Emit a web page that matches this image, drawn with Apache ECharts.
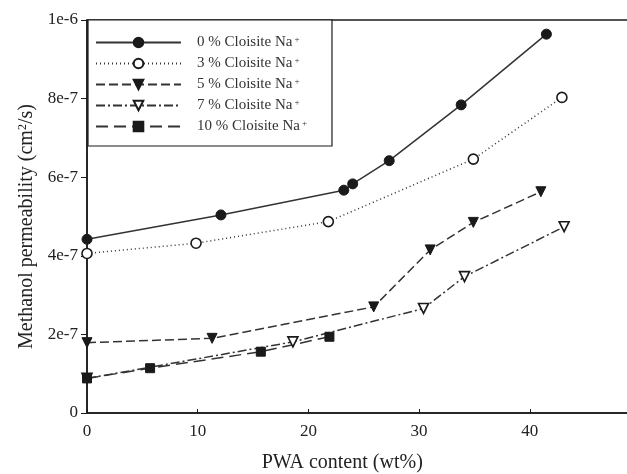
<!DOCTYPE html>
<html>
<head>
<meta charset="utf-8">
<script src="https://cdn.jsdelivr.net/npm/echarts@6/dist/echarts.min.js"></script>
<style>html,body{margin:0;padding:0;background:#fff}#c{width:627px;height:474px}</style>
</head>
<body>
<div id="c"></div>
<script>
const seriesNames = ['0 % Cloisite Na', '3 % Cloisite Na', '5 % Cloisite Na', '7 % Cloisite Na', '10 % Cloisite Na'];
const s0x = [0, 12.1, 23.2, 24.0, 27.3, 33.8, 41.5];
const s0y = [4.42e-7, 5.04e-7, 5.67e-7, 5.83e-7, 6.42e-7, 7.84e-7, 9.64e-7];
const s3x = [0, 9.85, 21.8, 34.9, 42.9];
const s3y = [4.06e-7, 4.32e-7, 4.87e-7, 6.46e-7, 8.03e-7];
const s5x = [0, 11.3, 25.9, 31.0, 34.9, 41.0];
const s5y = [1.79e-7, 1.90e-7, 2.70e-7, 4.15e-7, 4.85e-7, 5.63e-7];
const s7x = [0, 18.6, 30.4, 34.1, 43.1];
const s7y = [0.88e-7, 1.81e-7, 2.66e-7, 3.47e-7, 4.74e-7];
const s10x = [0, 5.7, 15.7, 21.9];
const s10y = [0.88e-7, 1.14e-7, 1.56e-7, 1.94e-7];
const yTickLabels = ['0', '2e-7', '4e-7', '6e-7', '8e-7', '1e-6'];
const xTickLabels = ['0', '10', '20', '30', '40', '50'];

const pairs = (xs, ys) => xs.map((x, i) => [x, ys[i]]);
const serif = 'Liberation Serif';
const ink = '#1a1a1a';

function mk(name, xs, ys, symbol, filled, dash, rotate) {
  return {
    name: name,
    type: 'line',
    data: pairs(xs, ys),
    symbol: symbol,
    symbolSize: symbol === 'rect' ? 9 : 10,
    symbolRotate: rotate || 0,
    showAllSymbol: true,
    lineStyle: { color: '#333', width: 1.5, type: dash },
    itemStyle: filled ? { color: ink, borderColor: ink, borderWidth: 1 } : { color: '#fff', borderColor: ink, borderWidth: 1.6 },
    z: 3
  };
}

const chart = echarts.init(document.getElementById('c'), null, { renderer: 'canvas' });
chart.setOption({
  animation: false,
  backgroundColor: '#fff',
  grid: { left: 87, top: 20, width: 553.5, height: 393, show: true, borderColor: ink, borderWidth: 1.5, outerBoundsMode: 'none', containLabel: false },
  legend: {
    orient: 'vertical',
    left: 88, top: 20,
    padding: [15, 25, 12, 7],
    itemWidth: 85, itemHeight: 12, itemGap: 6,
    borderColor: ink, borderWidth: 1.2, backgroundColor: '#fff',
    data: seriesNames,
    formatter: n => '{t|' + n + '}{s|+}',
    textStyle: {
      rich: {
        t: { fontFamily: serif, fontSize: 15, color: '#333', padding: [0, 0, 0, 11], lineHeight: 14 },
        s: { fontFamily: serif, fontSize: 9, color: '#333', verticalAlign: 'top', lineHeight: 10, padding: [0, 0, 4, 2] }
      }
    }
  },
  xAxis: {
    type: 'value', min: 0, max: 50, interval: 10,
    axisLine: { onZero: false, lineStyle: { color: ink, width: 1.5 } },
    axisTick: { inside: true, length: 4, lineStyle: { color: ink } },
    splitLine: { show: false },
    axisLabel: { fontFamily: serif, fontSize: 17, color: '#222', margin: 10, formatter: v => xTickLabels[Math.round(v / 10)] },
    name: 'PWA content (wt%)', nameLocation: 'middle', nameGap: 40,
    nameTextStyle: { fontFamily: serif, fontSize: 20, color: '#222', padding: [0, 43, 0, 0] }
  },
  yAxis: {
    type: 'value', min: 0, max: 1e-6, interval: 2e-7,
    axisLine: { show: true, lineStyle: { color: ink, width: 1.5 } },
    axisTick: { show: true, length: 6, lineStyle: { color: ink } },
    splitLine: { show: false },
    axisLabel: { fontFamily: serif, fontSize: 17, color: '#222', margin: 9, formatter: v => yTickLabels[Math.round(v / 2e-7)] },
    name: '{a|Methanol permeability (cm}{b|2}{a|/s)}', nameLocation: 'middle', nameGap: 39,
    nameTextStyle: {
      padding: [0, 20, 0, 0],
      rich: {
        a: { fontFamily: serif, fontSize: 20, color: '#222' },
        b: { fontFamily: serif, fontSize: 12, color: '#222', verticalAlign: 'top', padding: [0, 0, 9, 0] }
      }
    }
  },
  series: [
    mk(seriesNames[0], s0x, s0y, 'circle', true, 'solid'),
    mk(seriesNames[1], s3x, s3y, 'circle', false, [1, 3]),
    mk(seriesNames[2], s5x, s5y, 'triangle', true, [9, 4], 180),
    mk(seriesNames[3], s7x, s7y, 'triangle', false, [9, 3, 2, 3], 180),
    mk(seriesNames[4], s10x, s10y, 'rect', true, [12, 6])
  ]
});
</script>
</body>
</html>
